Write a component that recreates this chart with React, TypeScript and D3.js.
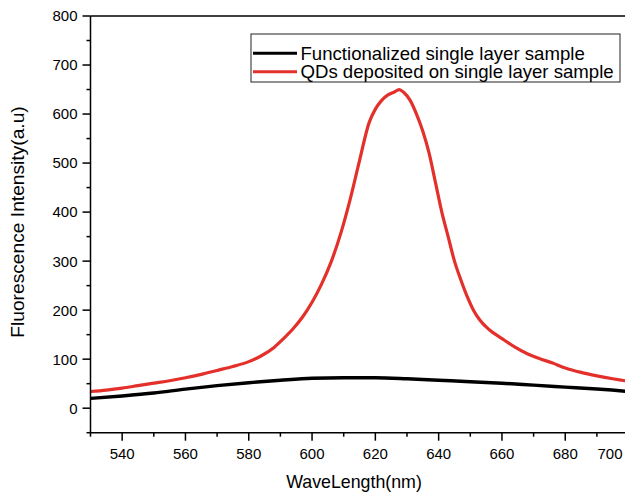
import React from "react";
import * as d3 from "d3";

const wavelengthsRed = [530,535,540,545,550,555,560,565,570,575,580,584,588,591,594,597,600,603,606,609,612,615,618,620,622,624,626,627.5,629,631,633,635,637,639,641,643,645,647,649,651,653,656,660,664,668,672,676,680,685,690,695,700,705];
const intensityRed = [34,37,41,46,51,56,62,69,77,85,95,107,124,142,162,186,216,253,298,355,425,505,582,610,628,639,645,650,644,628,600,565,520,460,400,350,300,262,228,200,180,160,142,125,111,101,92,82,73,66,60,55,52];

const wavelengthsBlack = [530,540,550,560,570,580,590,600,610,620,630,640,650,660,670,680,690,700,705];
const intensityBlack = [20,25,31,39,46,52,57,61,62,62,60,57,54,51,47,43,39,34,31];

const xMajorTicks = [540,560,580,600,620,640,660,680,700];
const xMinorTicks = [530,550,570,590,610,630,650,670,690];
const yMajorTicks = [0,100,200,300,400,500,600,700,800];
const yMinorTicks = [-50,50,150,250,350,450,550,650,750];

const legendLabels = ["Functionalized single layer sample", "QDs deposited on single layer sample"];
const seriesColors = ["#000000", "#e3302a"];

const FONT = "'Liberation Sans', Arial, sans-serif";

export default function App() {
  const W = 625, H = 496;
  const left = 90.5, top = 16, bottom = 432.7;
  const x = d3.scaleLinear().domain([530, 705]).range([left, left + 175 * 3.165]);
  const y = d3.scaleLinear().domain([-50, 800]).range([bottom, top]);

  const line = d3.line<[number, number]>().x(d => x(d[0])).y(d => y(d[1])).curve(d3.curveMonotoneX);
  const redPts = wavelengthsRed.map((w, i) => [w, intensityRed[i]] as [number, number]);
  const blackPts = wavelengthsBlack.map((w, i) => [w, intensityBlack[i]] as [number, number]);

  const rightEdge = W;

  return (
    <svg width={W} height={H} style={{ position: "absolute", left: 0, top: 0, background: "#fff" }} fontFamily={FONT}>
      <rect width={W} height={H} fill="#fff" />
      <path d={line(blackPts) || ""} fill="none" stroke={seriesColors[0]} strokeWidth={3.4} strokeLinejoin="round" />
      <path d={line(redPts) || ""} fill="none" stroke={seriesColors[1]} strokeWidth={3.2} strokeLinejoin="round" />

      {/* axes */}
      <line x1={left} x2={left} y1={top} y2={bottom} stroke="#000" strokeWidth={1.5} />
      <line x1={left} x2={rightEdge} y1={bottom} y2={bottom} stroke="#000" strokeWidth={1.5} />
      <line x1={left} x2={rightEdge} y1={top} y2={top} stroke="#000" strokeWidth={1.5} />

      {yMajorTicks.map(v => (
        <g key={"ym" + v}>
          <line x1={left - 8} x2={left} y1={y(v)} y2={y(v)} stroke="#000" strokeWidth={1.5} />
          <text x={left - 13} y={y(v)} dy="0.36em" textAnchor="end" fontSize={15} fill="#000">{v}</text>
        </g>
      ))}
      {yMinorTicks.map(v => (
        <line key={"yn" + v} x1={left - 4} x2={left} y1={y(v)} y2={y(v)} stroke="#000" strokeWidth={1.5} />
      ))}
      {xMajorTicks.map(v => {
        const px = x(v);
        const lx = Math.min(px, rightEdge - 15);
        return (
          <g key={"xm" + v}>
            <line x1={px} x2={px} y1={bottom} y2={bottom + 8} stroke="#000" strokeWidth={1.5} />
            <text x={lx} y={459} textAnchor="middle" fontSize={15} fill="#000">{v}</text>
          </g>
        );
      })}
      {xMinorTicks.map(v => (
        <line key={"xn" + v} x1={x(v)} x2={x(v)} y1={bottom} y2={bottom + 4} stroke="#000" strokeWidth={1.5} />
      ))}

      <text x={354} y={488} textAnchor="middle" fontSize={17.8} fill="#000">WaveLength(nm)</text>
      <text transform={`translate(24,222) rotate(-90)`} textAnchor="middle" fontSize={19.2} fill="#000">Fluorescence Intensity(a.u)</text>

      {/* legend */}
      <rect x={251} y={34} width={369} height={48} fill="#fff" stroke="#222" strokeWidth={1} />
      {legendLabels.map((lab, i) => (
        <g key={lab}>
          <line x1={253} x2={297} y1={53.3 + i * 18.4} y2={53.3 + i * 18.4} stroke={seriesColors[i]} strokeWidth={3} />
          <text x={300.5} y={60 + i * 18.4} fontSize={18.6} fill="#000">{lab}</text>
        </g>
      ))}
    </svg>
  );
}
